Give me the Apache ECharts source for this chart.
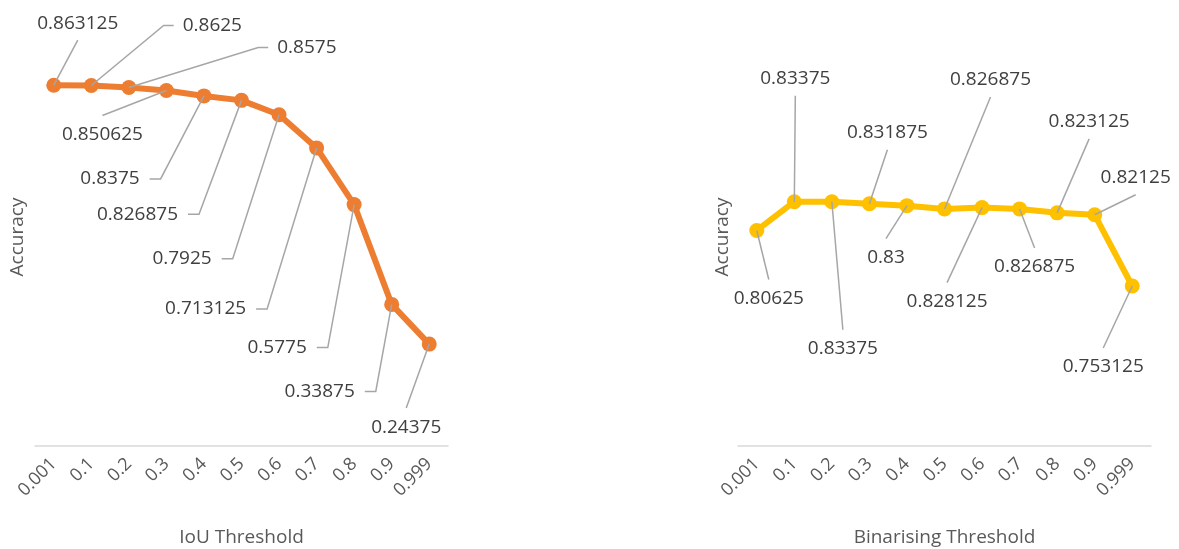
<!DOCTYPE html>
<html>
<head>
<meta charset="utf-8">
<script src="https://cdn.jsdelivr.net/npm/echarts@6/dist/echarts.min.js"></script>
<style>
  html, body { margin: 0; padding: 0; background: #ffffff; }
  #chart { width: 1179px; height: 549px; }
</style>
</head>
<body>
<div id="chart"></div>
<script>
// Threshold categories shared by both panels
const thresholds = ['0.001', '0.1', '0.2', '0.3', '0.4', '0.5', '0.6', '0.7', '0.8', '0.9', '0.999'];

// Accuracy against IoU threshold
const iouAccuracy = [0.863125, 0.8625, 0.8575, 0.850625, 0.8375, 0.826875, 0.7925, 0.713125, 0.5775, 0.33875, 0.24375];

// Accuracy against binarising threshold
const binAccuracy = [0.80625, 0.83375, 0.83375, 0.831875, 0.83, 0.826875, 0.828125, 0.826875, 0.823125, 0.82125, 0.753125];

// Where each value label sits, relative to its point (px)
const iouLabelOffsets = [[24, -62], [121, -60], [178, -40], [-64, 44], [-94, 83], [-104, 114],
                         [-97, 144], [-111, 161], [-77, 143], [-72, 87], [-23, 83]];
const binLabelOffsets = [[12, 68], [1, -123], [11, 147], [18, -71], [-21, 52], [46, -129],
                         [-35, 94], [15, 58], [32, -91], [41, -37], [-29, 81]];

// Which side of the label its leader line leaves from: t(op), b(ottom), l(eft), r(ight)
const iouLeaderSides = ['b', 'l', 'l', 't', 'r', 'r', 'r', 'r', 'r', 'r', 't'];
const binLeaderSides = ['t', 'b', 't', 'b', 't', 'b', 't', 't', 'b', 'b', 't'];

const FONT = '"Open Sans", "Noto Sans", sans-serif';
const LABEL_SIZE = 19;

const measureCtx = document.createElement('canvas').getContext('2d');
function textWidth(s) {
  measureCtx.font = LABEL_SIZE + 'px ' + FONT;
  return measureCtx.measureText(s).width;
}

function placeLabels(offsets) {
  return function (p) {
    const o = offsets[p.dataIndex];
    return {
      x: p.rect.x + p.rect.width / 2 + o[0],
      y: p.rect.y + p.rect.height / 2 + o[1],
      align: 'center',
      verticalAlign: 'middle'
    };
  };
}

// Leader line from each point to the side of its label
function leaderRenderer(values, offsets, sides) {
  return function (params, api) {
    const i = params.dataIndex;
    const pt = api.coord([api.value(0), api.value(1)]);
    const cx = pt[0] + offsets[i][0];
    const cy = pt[1] + offsets[i][1];
    const hw = textWidth(String(values[i])) / 2;
    let a, b;
    switch (sides[i]) {
      case 'r': a = [cx + hw + 10, cy]; b = [cx + hw + 21, cy]; break;
      case 'l': a = [cx - hw - 9, cy]; b = [cx - hw - 19, cy]; break;
      case 'b': a = [cx, cy + 17]; b = a; break;
      default:  a = [cx, cy - 19]; b = a; break;
    }
    return {
      type: 'polyline',
      shape: { points: [a, b, pt] },
      style: { stroke: '#a6a6a6', lineWidth: 1.5, fill: null },
      silent: true
    };
  };
}

function xAxisFor(gridIndex, name) {
  return {
    type: 'category',
    gridIndex: gridIndex,
    data: thresholds,
    boundaryGap: true,
    name: name,
    nameLocation: 'middle',
    nameGap: 82,
    nameTextStyle: { color: '#595959', fontSize: 19, fontFamily: FONT },
    axisLine: { show: true, lineStyle: { color: '#d9d9d9', width: 1.5 } },
    axisTick: { show: false },
    axisLabel: { rotate: 45, margin: 15, color: '#595959', fontSize: 18, fontFamily: FONT, interval: 0 },
    splitLine: { show: false }
  };
}

function yAxisFor(gridIndex, min, max, gap) {
  return {
    type: 'value',
    gridIndex: gridIndex,
    min: min,
    max: max,
    name: 'Accuracy',
    nameLocation: 'middle',
    nameGap: gap,
    nameTextStyle: { color: '#595959', fontSize: 19, fontFamily: FONT },
    axisLine: { show: false },
    axisTick: { show: false },
    axisLabel: { show: false },
    splitLine: { show: false }
  };
}

function lineSeries(index, values, color, offsets) {
  return {
    type: 'line',
    xAxisIndex: index,
    yAxisIndex: index,
    data: values,
    symbol: 'circle',
    symbolSize: 15,
    showSymbol: true,
    lineStyle: { color: color, width: 6 },
    itemStyle: { color: color },
    label: {
      show: true,
      position: 'inside',
      color: '#404040',
      fontSize: LABEL_SIZE,
      fontFamily: FONT,
      formatter: function (p) { return String(p.value); }
    },
    labelLayout: placeLabels(offsets),
    emphasis: { disabled: true },
    z: 2
  };
}

function leaderSeries(index, values, offsets, sides) {
  return {
    type: 'custom',
    xAxisIndex: index,
    yAxisIndex: index,
    data: values.map(function (v, i) { return [i, v]; }),
    renderItem: leaderRenderer(values, offsets, sides),
    silent: true,
    z: 3
  };
}

const chart = echarts.init(document.getElementById('chart'), null, { renderer: 'canvas' });
chart.setOption({
  animation: false,
  backgroundColor: '#ffffff',
  grid: [
    { left: 35, right: 731, top: 28, bottom: 103, outerBoundsMode: 'none', containLabel: false },
    { left: 738, right: 28, top: 28, bottom: 103, outerBoundsMode: 'none', containLabel: false }
  ],
  xAxis: [xAxisFor(0, 'IoU Threshold'), xAxisFor(1, 'Binarising Threshold')],
  yAxis: [yAxisFor(0, 0, 1, 8), yAxisFor(1, 0.6, 1, 6)],
  series: [
    lineSeries(0, iouAccuracy, '#ed7d31', iouLabelOffsets),
    leaderSeries(0, iouAccuracy, iouLabelOffsets, iouLeaderSides),
    lineSeries(1, binAccuracy, '#ffc000', binLabelOffsets),
    leaderSeries(1, binAccuracy, binLabelOffsets, binLeaderSides)
  ]
});
</script>
</body>
</html>
